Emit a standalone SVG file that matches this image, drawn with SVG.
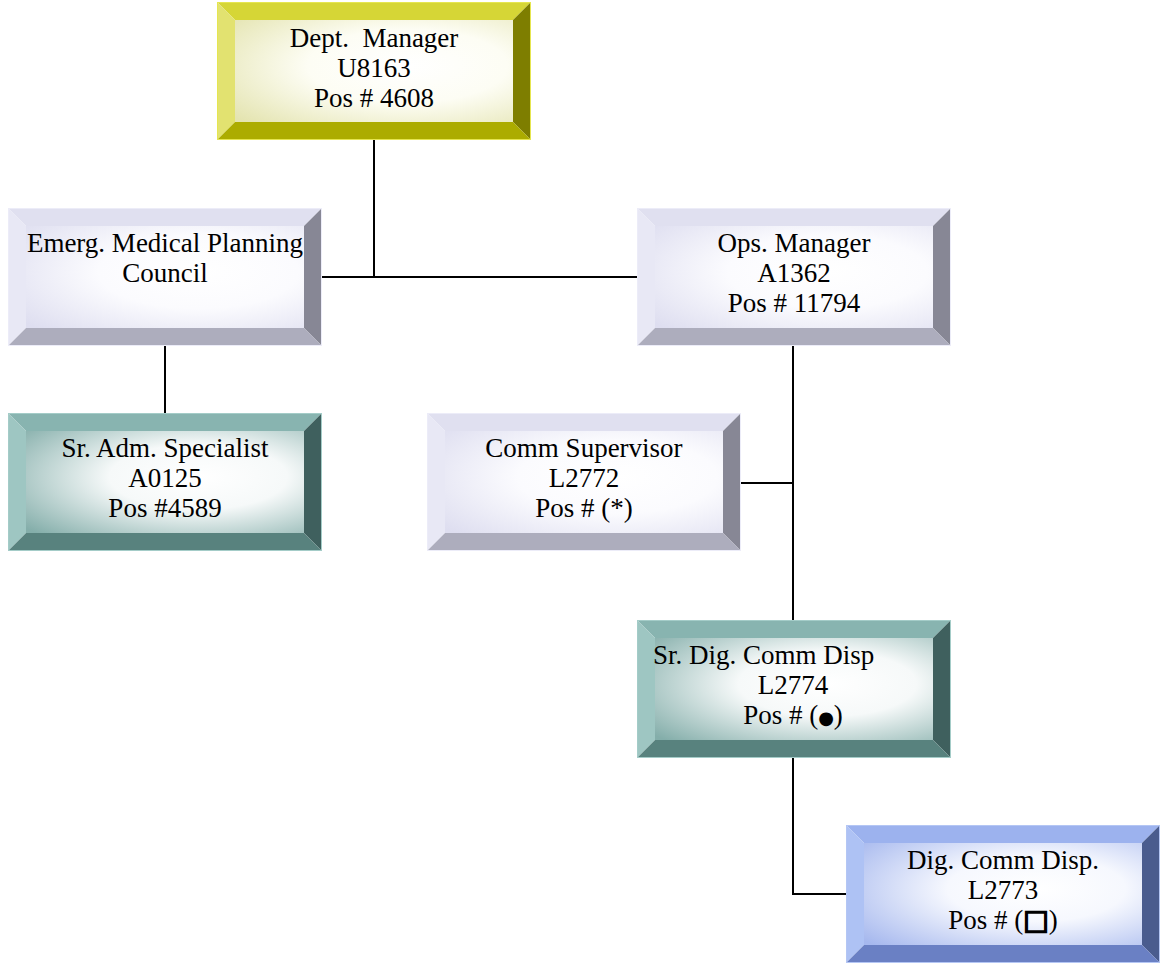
<svg xmlns="http://www.w3.org/2000/svg" width="1161" height="964" viewBox="0 0 1161 964">
<defs>
<style>
text{font-family:"Liberation Serif","Times New Roman",serif;font-size:27px;fill:#000;text-anchor:middle}
.sym{font-family:"DejaVu Sans",sans-serif}
#connectors line,#connectors polyline{stroke:#000;stroke-width:2;fill:none}
.yel .bt{fill:#d6d636}.yel .bl{fill:#e2e270}.yel .br{fill:#7e7e00}.yel .bb{fill:#acac00}.yel .face{fill:url(#gY)}.yel .edge{stroke:#e6e650}
.lav .bt{fill:#e0e0f0}.lav .bl{fill:#e8e8f5}.lav .br{fill:#878795}.lav .bb{fill:#adadbd}.lav .face{fill:url(#gL)}.lav .edge{stroke:#ececf8}
.tea .bt{fill:#88b4b0}.tea .bl{fill:#9ec6c2}.tea .br{fill:#3f605e}.tea .bb{fill:#58827e}.tea .face{fill:url(#gT)}.tea .edge{stroke:#a4ccc8}
.blu .bt{fill:#9cb2ee}.blu .bl{fill:#aec2f4}.blu .br{fill:#4a5c8e}.blu .bb{fill:#6a80c4}.blu .face{fill:url(#gB)}.blu .edge{stroke:#b4c6f4}
.edge{fill:none;stroke-width:1}
</style>
<radialGradient id="gY" cx="0.62" cy="0.45" r="0.8"><stop offset="0" stop-color="#fff"/><stop offset="0.45" stop-color="#fdfdf4"/><stop offset="1" stop-color="#e4e4b0"/></radialGradient>
<radialGradient id="gL" cx="0.62" cy="0.45" r="0.8"><stop offset="0" stop-color="#fff"/><stop offset="0.45" stop-color="#fbfbfe"/><stop offset="1" stop-color="#dedef0"/></radialGradient>
<radialGradient id="gT" cx="0.62" cy="0.45" r="0.8"><stop offset="0" stop-color="#fff"/><stop offset="0.4" stop-color="#f6f9f9"/><stop offset="1" stop-color="#84aeaa"/></radialGradient>
<radialGradient id="gB" cx="0.62" cy="0.45" r="0.8"><stop offset="0" stop-color="#fff"/><stop offset="0.4" stop-color="#f6f8fe"/><stop offset="1" stop-color="#a6b8ee"/></radialGradient>
</defs>
<rect width="1161" height="964" fill="#fff"/>
<g id="connectors">
<line x1="374" y1="140" x2="374" y2="277"/>
<line x1="322" y1="277" x2="637" y2="277"/>
<line x1="165" y1="346" x2="165" y2="413"/>
<line x1="793" y1="346" x2="793" y2="620"/>
<line x1="740" y1="483" x2="793" y2="483"/>
<polyline points="793,758 793,894 846,894"/>
</g>
<g id="dept-manager" class="yel" transform="translate(217,2)">
<polygon class="bt" points="0,0 314,0 296,18 18,18"/>
<polygon class="bl" points="0,0 18,18 18,120 0,138"/>
<polygon class="br" points="314,0 314,138 296,120 296,18"/>
<polygon class="bb" points="0,138 18,120 296,120 314,138"/>
<rect class="face" x="18" y="18" width="278" height="102"/>
<rect class="edge" x="0.5" y="0.5" width="313" height="137"/>
<text x="157" y="45" xml:space="preserve">Dept.  Manager</text>
<text x="157" y="75">U8163</text>
<text x="157" y="105">Pos # 4608</text>
</g>
<g id="emerg-council" class="lav" transform="translate(8,208)">
<polygon class="bt" points="0,0 314,0 296,18 18,18"/>
<polygon class="bl" points="0,0 18,18 18,120 0,138"/>
<polygon class="br" points="314,0 314,138 296,120 296,18"/>
<polygon class="bb" points="0,138 18,120 296,120 314,138"/>
<rect class="face" x="18" y="18" width="278" height="102"/>
<rect class="edge" x="0.5" y="0.5" width="313" height="137"/>
<text x="157" y="44">Emerg. Medical Planning</text>
<text x="157" y="74">Council</text>
</g>
<g id="ops-manager" class="lav" transform="translate(637,208)">
<polygon class="bt" points="0,0 314,0 296,18 18,18"/>
<polygon class="bl" points="0,0 18,18 18,120 0,138"/>
<polygon class="br" points="314,0 314,138 296,120 296,18"/>
<polygon class="bb" points="0,138 18,120 296,120 314,138"/>
<rect class="face" x="18" y="18" width="278" height="102"/>
<rect class="edge" x="0.5" y="0.5" width="313" height="137"/>
<text x="157" y="44">Ops. Manager</text>
<text x="157" y="74">A1362</text>
<text x="157" y="104">Pos # 11794</text>
</g>
<g id="sr-adm-specialist" class="tea" transform="translate(8,413)">
<polygon class="bt" points="0,0 314,0 296,18 18,18"/>
<polygon class="bl" points="0,0 18,18 18,120 0,138"/>
<polygon class="br" points="314,0 314,138 296,120 296,18"/>
<polygon class="bb" points="0,138 18,120 296,120 314,138"/>
<rect class="face" x="18" y="18" width="278" height="102"/>
<rect class="edge" x="0.5" y="0.5" width="313" height="137"/>
<text x="157" y="44">Sr. Adm. Specialist</text>
<text x="157" y="74">A0125</text>
<text x="157" y="104">Pos #4589</text>
</g>
<g id="comm-supervisor" class="lav" transform="translate(427,413)">
<polygon class="bt" points="0,0 314,0 296,18 18,18"/>
<polygon class="bl" points="0,0 18,18 18,120 0,138"/>
<polygon class="br" points="314,0 314,138 296,120 296,18"/>
<polygon class="bb" points="0,138 18,120 296,120 314,138"/>
<rect class="face" x="18" y="18" width="278" height="102"/>
<rect class="edge" x="0.5" y="0.5" width="313" height="137"/>
<text x="157" y="44">Comm Supervisor</text>
<text x="157" y="74">L2772</text>
<text x="157" y="104">Pos # (*)</text>
</g>
<g id="sr-dig-comm-disp" class="tea" transform="translate(637,620)">
<polygon class="bt" points="0,0 314,0 296,18 18,18"/>
<polygon class="bl" points="0,0 18,18 18,120 0,138"/>
<polygon class="br" points="314,0 314,138 296,120 296,18"/>
<polygon class="bb" points="0,138 18,120 296,120 314,138"/>
<rect class="face" x="18" y="18" width="278" height="102"/>
<rect class="edge" x="0.5" y="0.5" width="313" height="137"/>
<text x="16" y="44" style="text-anchor:start">Sr. Dig. Comm Disp</text>
<text x="156" y="74">L2774</text>
<text x="156" y="104">Pos # (<tspan class="sym" font-size="18">●</tspan>)</text>
</g>
<g id="dig-comm-disp" class="blu" transform="translate(846,825)">
<polygon class="bt" points="0,0 314,0 296,18 18,18"/>
<polygon class="bl" points="0,0 18,18 18,120 0,138"/>
<polygon class="br" points="314,0 314,138 296,120 296,18"/>
<polygon class="bb" points="0,138 18,120 296,120 314,138"/>
<rect class="face" x="18" y="18" width="278" height="102"/>
<rect class="edge" x="0.5" y="0.5" width="313" height="137"/>
<text x="157" y="44">Dig. Comm Disp.</text>
<text x="157" y="74">L2773</text>
<text x="157" y="104">Pos # (<tspan class="sym" font-size="27" stroke="#000" stroke-width="1.6">□</tspan>)</text>
</g>
</svg>
